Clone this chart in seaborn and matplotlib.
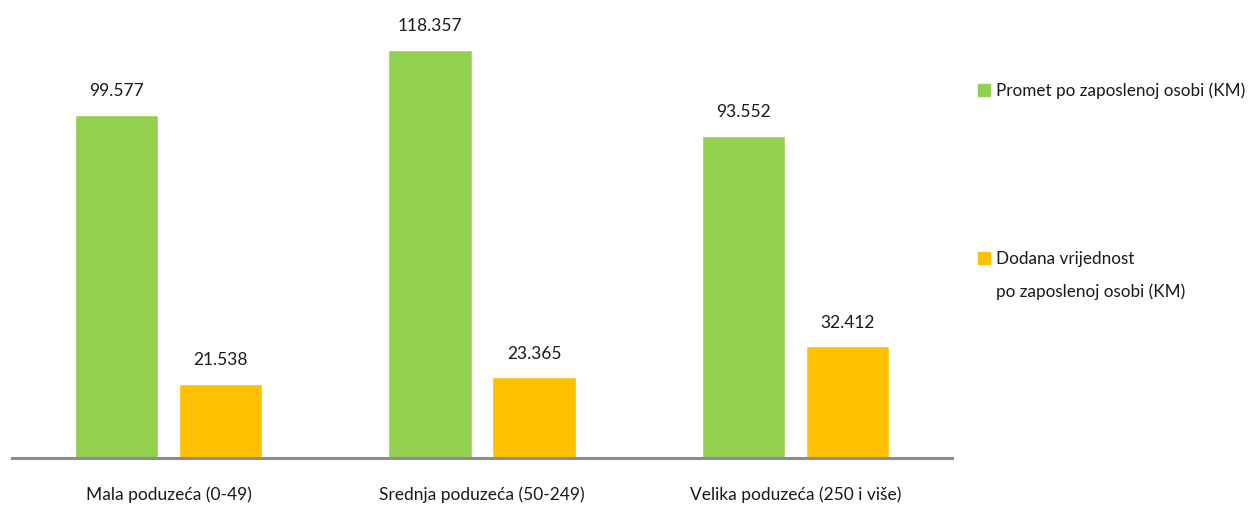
import matplotlib
matplotlib.use("Agg")
import matplotlib.pyplot as plt
import seaborn as sns
import pandas as pd
from matplotlib.patches import Rectangle

categories = ["Mala poduzeća (0-49)", "Srednja poduzeća (50-249)", "Velika poduzeća (250 i više)"]
series_names = ["Promet po zaposlenoj osobi (KM)", "Dodana vrijednost\npo zaposlenoj osobi (KM)"]
promet = [99577, 118357, 93552]
dodana = [21538, 23365, 32412]
colors = ["#92D050", "#FFC000"]

df = pd.DataFrame({
    "cat": categories * 2,
    "series": [series_names[0]] * 3 + [series_names[1]] * 3,
    "value": promet + dodana,
})

sns.set_style("white")
plt.rcParams["font.family"] = ["Lato", "DejaVu Sans"]

fig = plt.figure(figsize=(12.5, 5.06), dpi=100)
ax = fig.add_axes([12/1250, 47/506, 940/1250, 459/506])
sns.barplot(data=df, x="cat", y="value", hue="series", palette=colors,
            width=0.664, gap=0.2, ax=ax, legend=False, saturation=1)

ax.set_xlim(-0.5, 2.5)
ax.set_ylim(0, 133200)
for c in ax.containers:
    labels = [f"{v:,.0f}".replace(",", ".") for v in c.datavalues]
    ax.bar_label(c, labels=labels, padding=12, fontsize=12.5, color="#1a1a1a")

for s in ["top", "left", "right"]:
    ax.spines[s].set_visible(False)
ax.spines["bottom"].set_color("#8c8c8c")
ax.spines["bottom"].set_linewidth(2.2)
ax.set_yticks([])
ax.set_xlabel("")
ax.set_ylabel("")
ax.tick_params(axis="x", length=0, pad=20, labelsize=12.5, labelcolor="#1a1a1a")

# legend
W, H = 1250, 506
def fy(y):
    return 1 - y / H
fig.patches.append(Rectangle((978/W, fy(97)), 12/W, 12/H, transform=fig.transFigure,
                             color=colors[0], figure=fig))
fig.text(996/W, fy(91), series_names[0], va="center", ha="left", fontsize=12.3, color="#1a1a1a")
fig.patches.append(Rectangle((978/W, fy(265)), 12/W, 12/H, transform=fig.transFigure,
                             color=colors[1], figure=fig))
fig.text(996/W, fy(259), "Dodana vrijednost", va="center", ha="left", fontsize=12.3, color="#1a1a1a")
fig.text(996/W, fy(292), "po zaposlenoj osobi (KM)", va="center", ha="left", fontsize=12.3, color="#1a1a1a")

fig.savefig("out.png", dpi=100, facecolor="white")
